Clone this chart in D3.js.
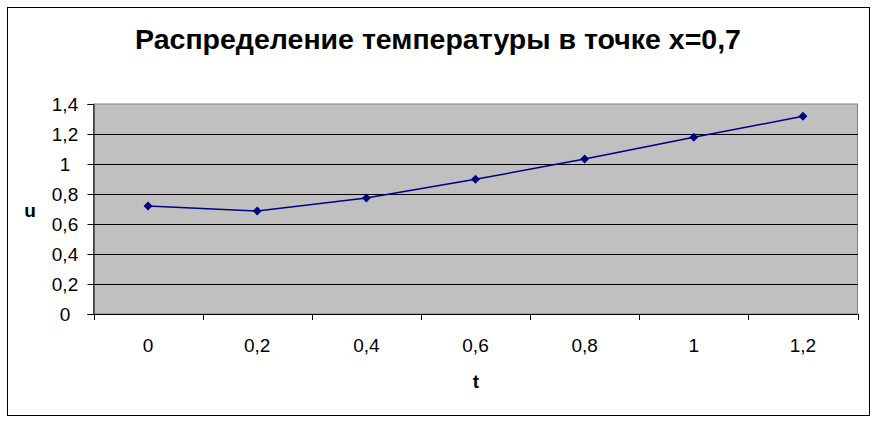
<!DOCTYPE html>
<html><head><meta charset="utf-8">
<script src="https://cdn.jsdelivr.net/npm/d3@7"></script>
<style>body{margin:0;background:#fff}svg{display:block}text{font-family:"Liberation Sans",Arial,sans-serif}</style>
</head><body><svg id="c" width="877" height="422"></svg>
<script>
const categories = ["0","0,2","0,4","0,6","0,8","1","1,2"];
const values = [0.72, 0.687, 0.773, 0.898, 1.033, 1.178, 1.318];
const yTicks = [0,0.2,0.4,0.6,0.8,1,1.2,1.4];
const yTickLabels = ["0","0,2","0,4","0,6","0,8","1","1,2","1,4"];
const title = "Распределение температуры в точке x=0,7";
const xTitle = "t", yTitle = "u";

const svg = d3.select("#c");
const L = 93.5, R = 857.5, T = 104, B = 314;
svg.append("rect").attr("x",7.5).attr("y",7.5).attr("width",862).attr("height",408)
  .attr("fill","#fff").attr("stroke","#000").attr("stroke-width",1);

const x = d3.scaleBand().domain(categories).range([L,R]).padding(0);
const y = d3.scaleLinear().domain([0,1.4]).range([B,T]);

svg.append("rect").attr("x",L).attr("y",T).attr("width",R-L).attr("height",B-T)
  .attr("fill","#c0c0c0").attr("stroke","#808080").attr("stroke-width",1);

// gridlines
svg.append("g").selectAll("line").data(yTicks.filter(d=>d>0 && d<1.4)).join("line")
  .attr("x1",L).attr("x2",R).attr("y1",d=>Math.round(y(d))+0.5).attr("y2",d=>Math.round(y(d))+0.5)
  .attr("stroke","#000").attr("stroke-width",1);

// y axis
const yAxis = d3.axisLeft(y).tickValues(yTicks).tickSize(6).tickFormat(()=>"");
const gy = svg.append("g").attr("transform",`translate(${L},0)`).call(yAxis);
gy.select(".domain").attr("stroke","#000");
gy.selectAll(".tick line").attr("stroke","#000");
svg.append("g").selectAll("text").data(yTicks).join("text")
  .attr("x",65).attr("y",d=>y(d)+7).attr("text-anchor","middle")
  .attr("font-size",19).attr("fill","#000").text((d,i)=>yTickLabels[i]);

// x axis
const edges = categories.map(c=>x(c)).concat([R]);
const gx = svg.append("g");
gx.append("line").attr("x1",L).attr("x2",R).attr("y1",B+0.5).attr("y2",B+0.5).attr("stroke","#000");
gx.selectAll("line.t").data(edges).join("line").attr("class","t")
  .attr("x1",d=>Math.round(d)+0.5).attr("x2",d=>Math.round(d)+0.5).attr("y1",B).attr("y2",B+6).attr("stroke","#000");
gx.selectAll("text").data(categories).join("text")
  .attr("x",d=>x(d)+x.bandwidth()/2).attr("y",352).attr("text-anchor","middle")
  .attr("font-size",19).attr("fill","#000").text(d=>d);

// line
const line = d3.line().x((d,i)=>x(categories[i])+x.bandwidth()/2).y(d=>y(d));
svg.append("path").datum(values).attr("d",line).attr("fill","none").attr("stroke","#000080").attr("stroke-width",1.5);
svg.append("g").selectAll("path").data(values).join("path")
  .attr("d",d3.symbol(d3.symbolSquare,40)())
  .attr("transform",(d,i)=>`translate(${x(categories[i])+x.bandwidth()/2},${y(d)}) rotate(45)`)
  .attr("fill","#000080");

// titles
svg.append("text").attr("x",438).attr("y",49).attr("text-anchor","middle")
  .attr("font-size",28.5).attr("font-weight","bold").text(title);
svg.append("text").attr("x",30).attr("y",217).attr("text-anchor","middle")
  .attr("font-size",19).attr("font-weight","bold").text(yTitle);
svg.append("text").attr("x",476).attr("y",388).attr("text-anchor","middle")
  .attr("font-size",19).attr("font-weight","bold").text(xTitle);
</script></body></html>
